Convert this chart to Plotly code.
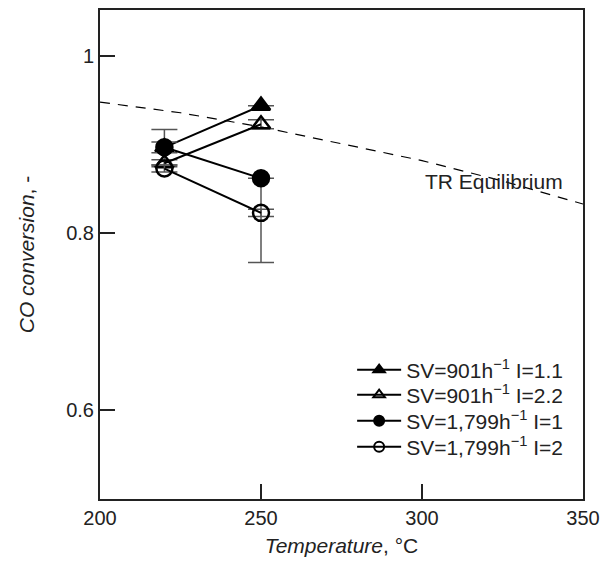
import plotly.graph_objects as go

temps = [220, 250]
sv901_i11 = [0.897, 0.944]
sv901_i22 = [0.879, 0.923]
sv1799_i1 = [0.897, 0.862]
sv1799_i2 = [0.873, 0.823]

err901_i11 = [0.020, 0.0]
err901_i22 = [0.004, 0.005]
err1799_i1_plus = [0.006, 0.0]
err1799_i1_minus = [0.006, 0.095]
err1799_i2 = [0.004, 0.004]

eq_temp = [200, 225, 250, 275, 300, 325, 350]
eq_conv = [0.948, 0.936, 0.920, 0.901, 0.882, 0.859, 0.833]

names = ["SV=901h<sup>\u22121</sup> I=1.1", "SV=901h<sup>\u22121</sup> I=2.2",
         "SV=1,799h<sup>\u22121</sup> I=1", "SV=1,799h<sup>\u22121</sup> I=2"]

FONT = "Liberation Sans, Arial, sans-serif"
fig = go.Figure()

fig.add_trace(go.Scatter(x=eq_temp, y=eq_conv, mode="lines", showlegend=False,
                         line=dict(color="black", width=1.2, dash="10px,8px")))

def err(plus, minus=None):
    d = dict(type="data", array=plus, color="#555555", thickness=1.5, width=13, visible=True)
    if minus is not None:
        d["symmetric"] = False
        d["arrayminus"] = minus
    return d

specs = [
    (sv901_i11, "triangle-up", err(err901_i11)),
    (sv901_i22, "triangle-up-open", err(err901_i22)),
    (sv1799_i1, "circle", err(err1799_i1_plus, err1799_i1_minus)),
    (sv1799_i2, "circle-open", err(err1799_i2)),
]
for (ys, sym, e), nm in zip(specs, names):
    fig.add_trace(go.Scatter(
        x=temps, y=ys, mode="lines+markers", showlegend=False,
        line=dict(color="black", width=2),
        marker=dict(symbol=sym, size=16, color="black", line=dict(color="black", width=2.5)),
        error_y=e))

# one legend per entry so the row spacing matches the reference
legend_ids = ["legend", "legend2", "legend3", "legend4"]
legend_y = [0.2638, 0.2127, 0.1595, 0.1063]
for (ys, sym, e), nm, lg in zip(specs, names, legend_ids):
    fig.add_trace(go.Scatter(
        x=[None], y=[None], mode="lines+markers", name=nm, legend=lg,
        line=dict(color="black", width=2),
        marker=dict(symbol=sym, size=10, color="black", line=dict(color="black", width=2))))

fig.add_annotation(x=322.5, y=0.858, text="TR Equilibrium", showarrow=False,
                   font=dict(size=21, color="#222", family=FONT))

legend_layout = {}
for lg, ly in zip(legend_ids, legend_y):
    legend_layout[lg] = dict(x=0.522, y=ly, xanchor="left", yanchor="middle",
                             bgcolor="rgba(0,0,0,0)", font=dict(size=21),
                             itemwidth=44)

fig.update_layout(
    width=606, height=565,
    margin=dict(l=100, r=23, t=10, b=66),
    plot_bgcolor="white", paper_bgcolor="white",
    font=dict(family=FONT, size=20, color="#222"),
    **legend_layout,
    xaxis=dict(range=[200, 350], tickvals=[200, 250, 300, 350], ticks="inside",
               ticklen=15, tickwidth=2, tickcolor="#222", showline=True, linecolor="#222",
               linewidth=2, mirror=True, showgrid=False, zeroline=False, automargin=False,
               title=dict(text="<i>Temperature</i>, \u00b0C", standoff=10, font=dict(size=21))),
    yaxis=dict(range=[0.5, 1.052], tickvals=[0.6, 0.8, 1.0], ticktext=["0.6", "0.8", "1"],
               ticks="inside", ticklen=15, tickwidth=2, tickcolor="#222", showline=True,
               linecolor="#222", linewidth=2, mirror=True, showgrid=False, zeroline=False,
               automargin=False,
               title=dict(text="<i>CO conversion</i>, -", standoff=26, font=dict(size=21))),
)

fig.write_html("out.html")
